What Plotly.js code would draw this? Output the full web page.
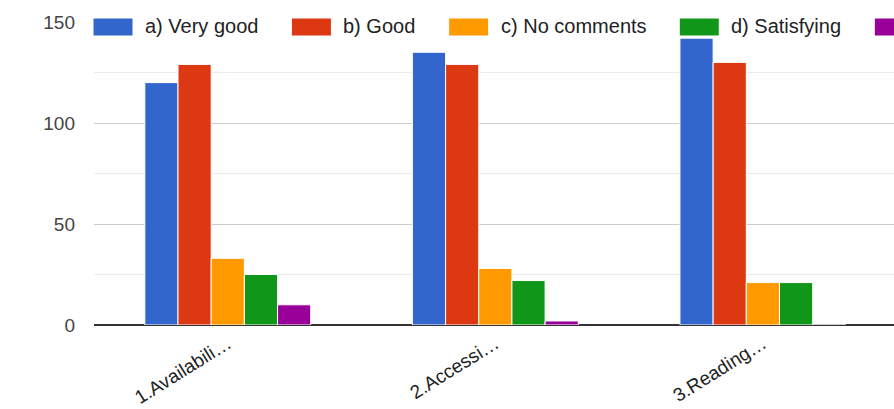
<!DOCTYPE html>
<html>
<head>
<meta charset="utf-8">
<script src="https://cdn.plot.ly/plotly-3.0.1.min.js"></script>
<style>
  html, body { margin: 0; padding: 0; background: #fff; overflow: hidden; }
  #chart { width: 894px; height: 409px; }
</style>
</head>
<body>
<div id="chart"></div>
<script>
// ---- data ----
const categories = ["1.Availabili\u2026", "2.Accessi\u2026", "3.Reading\u2026"];
const seriesNames = ["a) Very good", "b) Good", "c) No comments", "d) Satisfying", "e) Poor"];
const veryGood    = [120, 135, 142];
const good        = [129, 129, 130];
const noComments  = [33, 28, 21];
const satisfying  = [25, 22, 21];
const poor        = [10, 2, 0];
const yTickVals   = [0, 50, 100, 150];

// ---- styles ----
const seriesValues = [veryGood, good, noComments, satisfying, poor];
const colors = ["#3366cc", "#dc3912", "#ff9900", "#109618", "#990099"];
const FONT = "Liberation Sans, Arial, sans-serif";

const traces = seriesValues.map((vals, i) => ({
  type: "bar",
  name: seriesNames[i],
  x: categories,
  y: vals,
  marker: { color: colors[i], line: { color: "#ffffff", width: 1 } },
  hoverinfo: "x+y+name"
}));

const W = 894, H = 409;
const M = { l: 94, r: 0, t: 22, b: 84 };
const plotH = H - M.t - M.b;
const plotW = W - M.l - M.r;

// custom legend (large swatches) placed above the plot
const legendFontSize = 20;
const canvas = document.createElement("canvas");
const ctx = canvas.getContext("2d");
ctx.font = legendFontSize + "px 'Liberation Sans'";
const swW = 40, swTop = 18, swBot = 36, textGap = 10, itemGap = 35;
const shapes = [], annotations = [];
let xpx = 93;
seriesNames.forEach((name, i) => {
  const toPX = p => (p - M.l) / plotW;
  const toPY = p => (H - M.b - p) / plotH;
  shapes.push({
    type: "rect", xref: "paper", yref: "paper", layer: "above",
    x0: toPX(xpx), x1: toPX(xpx + swW), y0: toPY(swBot), y1: toPY(swTop),
    fillcolor: colors[i], line: { color: "#ffffff", width: 1 }
  });
  const tx = xpx + swW + textGap;
  if (tx < W) {
    annotations.push({
      xref: "paper", yref: "paper", x: toPX(tx), y: toPY((swTop + swBot) / 2 - 1),
      xanchor: "left", yanchor: "middle", showarrow: false, text: name,
      font: { family: FONT, size: legendFontSize, color: "#222222" }
    });
  }
  xpx += swW + textGap + ctx.measureText(name).width + itemGap;
});

const layout = {
  width: W, height: H,
  margin: M,
  paper_bgcolor: "#ffffff", plot_bgcolor: "#ffffff",
  showlegend: false,
  barmode: "group",
  bargap: 0.38,
  bargroupgap: 0,
  font: { family: FONT, size: 19, color: "#444444" },
  xaxis: {
    type: "category",
    range: [-0.5, 2.49],
    showgrid: false, zeroline: false, showline: false,
    ticks: "",
    tickangle: -32,
    ticklabelstandoff: 3,
    tickfont: { family: FONT, size: 19, color: "#222222" }
  },
  yaxis: {
    range: [0, 150],
    tickvals: yTickVals,
    ticks: "",
    showgrid: true, gridcolor: "#cccccc", gridwidth: 1,
    minor: { dtick: 25, showgrid: true, gridcolor: "#ebebeb", gridwidth: 1 },
    zeroline: true, zerolinecolor: "#333333", zerolinewidth: 2,
    showline: false,
    ticklabelstandoff: 18,
    tickfont: { family: FONT, size: 19, color: "#444444" }
  },
  shapes: shapes,
  annotations: annotations
};

Plotly.newPlot("chart", traces, layout, { displayModeBar: false, staticPlot: true });
</script>
</body>
</html>
